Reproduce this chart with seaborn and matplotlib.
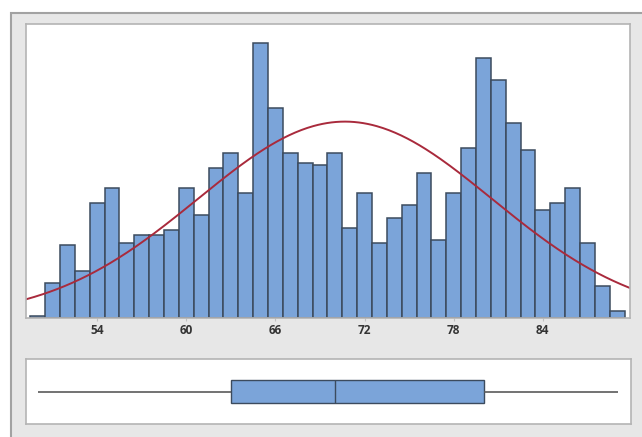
import numpy as np
import matplotlib
matplotlib.use("Agg")
import matplotlib.pyplot as plt
from matplotlib.patches import Rectangle
import seaborn as sns

# Histogram bins (width 1, centred on integers) and their counts
bin_centers = list(range(50, 90))
counts = [1, 14, 29, 19, 46, 52, 30, 33, 33, 35,
          52, 41, 60, 66, 50, 110, 84, 66, 62, 61,
          66, 36, 50, 30, 40, 45, 58, 31, 50, 68,
          104, 95, 78, 67, 43, 46, 52, 30, 13, 3]
tick_values = [54, 60, 66, 72, 78, 84]
tick_labels = ["54", "60", "66", "72", "78", "84"]

obs = np.repeat(np.array(bin_centers, dtype=float), counts)
edges = np.arange(bin_centers[0] - 0.5, bin_centers[-1] + 1.0, 1.0)

bar_color = "#7ba4d9"
edge_color = "#3c4b5e"
curve_color = "#a92a3c"
label_color = "#333333"
panel_bg = "#e7e7e7"
frame_color = "#b4b4b4"

sns.set_theme(style="white")
plt.rcParams["font.family"] = ["Open Sans", "DejaVu Sans"]

W, H = 642, 437
fig = plt.figure(figsize=(W / 100, H / 100), dpi=100)
fig.patch.set_facecolor("white")

# Grey summary panel behind both plots
fig.add_artist(Rectangle((11 / W, -0.05), 1.2, 1 - 13 / H + 0.05,
                         transform=fig.transFigure, facecolor=panel_bg,
                         edgecolor="#a2a2a2", linewidth=1.5, zorder=0))

xlim = (49.18, 89.87)

# --- Histogram with fitted normal curve ---
ax = fig.add_axes([25.5 / W, (H - 318) / H, 604.5 / W, 294 / H])
ax.set_facecolor("white")
sns.histplot(x=obs, bins=edges, stat="count", color=bar_color, alpha=1.0,
             edgecolor=edge_color, linewidth=1.1, ax=ax)

mu = obs.mean()
sd = obs.std(ddof=1)
xs = np.linspace(xlim[0], xlim[1], 400)
ys = len(obs) * 1.0 * np.exp(-0.5 * ((xs - mu) / sd) ** 2) / (sd * np.sqrt(2 * np.pi))
sns.lineplot(x=xs, y=ys, color=curve_color, linewidth=1.4, ax=ax)

ax.set_xlim(*xlim)
ax.set_ylim(0, 117.6)
ax.set_xticks(tick_values)
ax.set_xticklabels(tick_labels, fontsize=8.5, fontweight="bold", color=label_color)
ax.set_yticks([])
ax.set_xlabel("")
ax.set_ylabel("")
ax.tick_params(axis="x", length=2, width=0.8, color="#c0c0c0", pad=2.5, bottom=True)
for s in ax.spines.values():
    s.set_color(frame_color)
    s.set_linewidth(1.2)

# --- Boxplot on the same horizontal scale ---
bx = fig.add_axes([25.5 / W, (H - 424) / H, 605 / W, 65 / H])
bx.set_facecolor("white")
sns.boxplot(x=obs, orient="h", width=0.34, whis=(0, 100), showcaps=False,
            showfliers=False, color=bar_color, linewidth=1.0, ax=bx,
            boxprops=dict(facecolor=bar_color, edgecolor=edge_color),
            medianprops=dict(color=edge_color, linewidth=1.0),
            whiskerprops=dict(color="#5a5a5a", linewidth=1.2))
bx.set_xlim(*xlim)
bx.set_ylim(0.5, -0.5)
bx.set_xticks([])
bx.set_yticks([])
bx.set_xlabel("")
bx.set_ylabel("")
for s in bx.spines.values():
    s.set_color(frame_color)
    s.set_linewidth(1.2)

fig.savefig("out.png", dpi=100, facecolor=fig.get_facecolor())
